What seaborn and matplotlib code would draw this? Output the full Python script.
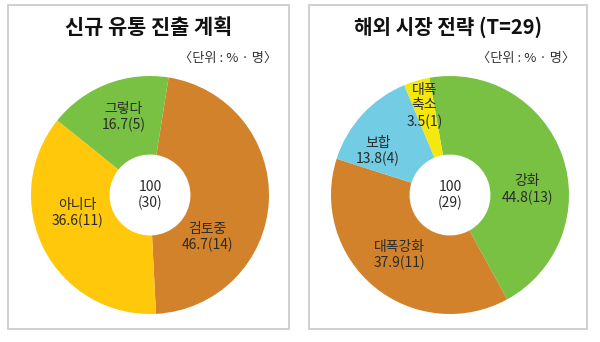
import matplotlib
matplotlib.use("Agg")
import matplotlib.pyplot as plt
from matplotlib.patches import Rectangle
import numpy as np
import seaborn as sns

# ---- data ----
plan_title = "신규 유통 진출 계획"
plan_labels = ["검토중", "아니다", "그렇다"]
plan_pct = [46.7, 36.6, 16.7]
plan_n = [14, 11, 5]
plan_total = "100\n(30)"

strat_title = "해외 시장 전략 (T=29)"
strat_labels = ["강화", "대폭강화", "보합", "대폭\n축소"]
strat_pct = [44.8, 37.9, 13.8, 3.5]
strat_n = [13, 11, 4, 1]
strat_total = "100\n(29)"

unit_text = "〈단위 : % · 명〉"

# ---- style ----
sns.set_theme(style="white")
plt.rcParams['font.family'] = ['Noto Sans CJK KR', 'DejaVu Sans']

ORANGE = "#D2822A"
YELLOW = "#FFC80A"
GREEN = "#79C143"
BLUE = "#72CCE3"
LEMON = "#F5E80F"
plan_colors = [ORANGE, YELLOW, GREEN]
strat_colors = [GREEN, ORANGE, BLUE, LEMON]
TXT = "#2a2a2a"

W, H = 600, 342
fig = plt.figure(figsize=(W / 100, H / 100), dpi=100)
fig.patch.set_facecolor("white")

def px_rect(x0, y0, x1, y1):
    return [x0 / W, 1 - y1 / H, (x1 - x0) / W, (y1 - y0) / H]

def panel(box, cx, cy, r, title, labels, pct, n, colors, total, start, lab_pos, tsize):
    bx0, by0, bx1, by1 = box
    fig.add_artist(Rectangle((bx0 / W, 1 - by1 / H), (bx1 - bx0) / W, (by1 - by0) / H,
                             transform=fig.transFigure, fill=False,
                             edgecolor="#cdcdcd", linewidth=1.3))
    fig.text((bx0 + bx1) / 2 / W, 1 - 27 / H, title, ha="center", va="center",
             fontsize=tsize, fontweight="bold", color="#111111")
    fig.text((bx1 - 12) / W, 1 - 58 / H, unit_text, ha="right", va="center",
             fontsize=9.5, color="#333333")
    ax = fig.add_axes(px_rect(cx - r, cy - r, cx + r, cy + r))
    ax.pie(pct, colors=colors, startangle=start, counterclock=False, radius=1,
           wedgeprops=dict(width=0.66, linewidth=0))
    ax.set_xlim(-1, 1)
    ax.set_ylim(-1, 1)
    ax.set_aspect("equal")
    ax.axis("off")
    ax.text(0, 0, total, ha="center", va="center", fontsize=10, color=TXT,
            linespacing=1.15)
    for lab, p, k, (ang, rr) in zip(labels, pct, n, lab_pos):
        a = np.deg2rad(ang)
        ax.text(rr * np.cos(a), rr * np.sin(a), f"{lab}\n{p}({k})",
                ha="center", va="center", fontsize=10, color=TXT, linespacing=1.15)

panel((8, 5, 289, 329), 150, 195, 119, plan_title, plan_labels, plan_pct, plan_n,
      plan_colors, plan_total, 81,
      [(-36, 0.60), (194, 0.63), (109, 0.69)], 15)
panel((309, 5, 587, 329), 450, 195, 119, strat_title, strat_labels, strat_pct, strat_n,
      strat_colors, strat_total, 100,
      [(4, 0.65), (-130, 0.66), (149, 0.71), (106, 0.78)], 14.5)

fig.savefig("out.png", dpi=100, facecolor="white")
